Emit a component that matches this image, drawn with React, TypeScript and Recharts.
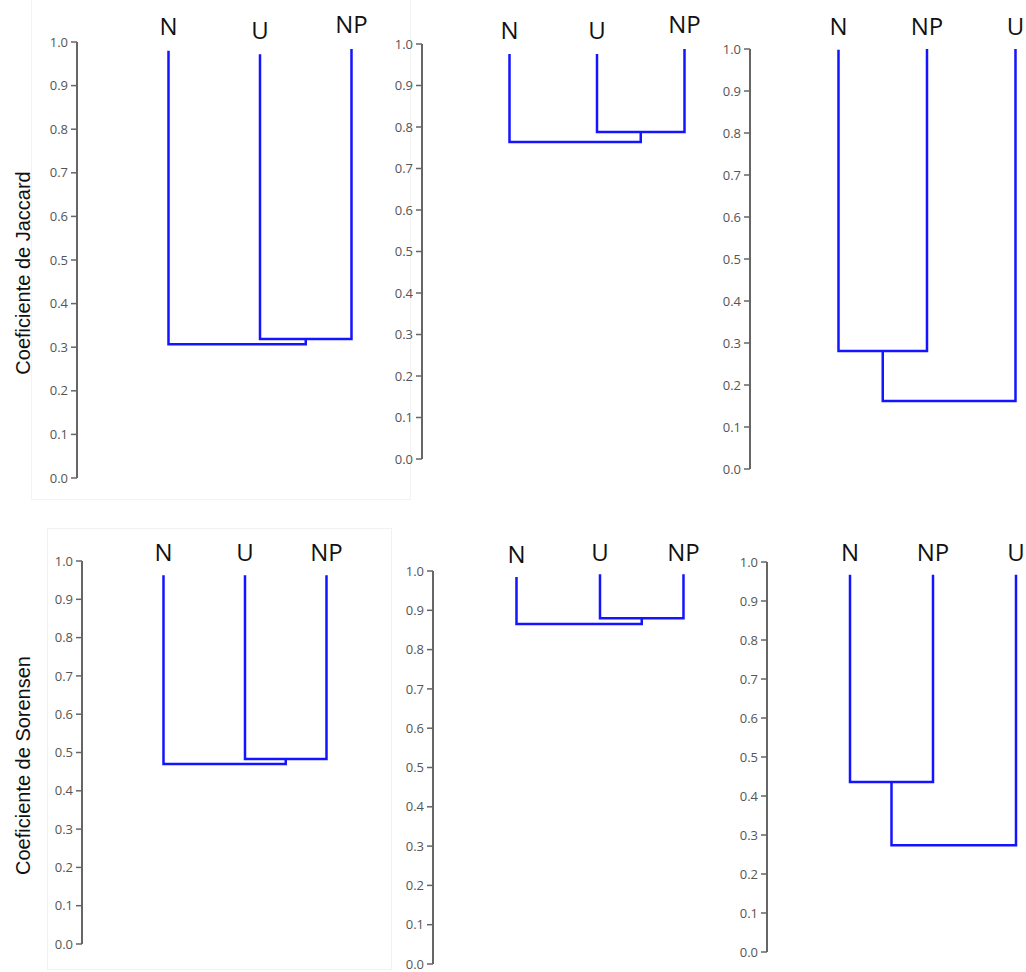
import React from 'react';
import { LineChart, Line, XAxis, YAxis, Label } from 'recharts';

// leaf order of each dendrogram (top row: Jaccard, bottom row: Sorensen)
const panelLeaves = [
  ['N', 'U', 'NP'],
  ['N', 'U', 'NP'],
  ['N', 'NP', 'U'],
  ['N', 'U', 'NP'],
  ['N', 'U', 'NP'],
  ['N', 'NP', 'U'],
];

// height where each leaf's branch starts
const leafTops = [
  [0.98, 0.972, 0.984],
  [0.976, 0.976, 0.988],
  [0.998, 1.0, 1.0],
  [0.963, 0.963, 0.963],
  [0.985, 0.992, 0.992],
  [0.967, 0.967, 0.967],
];

// the two leaves joined first, and the join heights
const firstPair = [
  [1, 2],
  [1, 2],
  [0, 1],
  [1, 2],
  [1, 2],
  [0, 1],
];
const pairJoin = [0.319, 0.788, 0.281, 0.483, 0.88, 0.436];
const rootJoin = [0.307, 0.764, 0.162, 0.47, 0.865, 0.274];

const yTicks = [0, 0.1, 0.2, 0.3, 0.4, 0.5, 0.6, 0.7, 0.8, 0.9, 1.0];
const rowTitles = ['Coeficiente de Jaccard', 'Coeficiente de Sorensen'];

// page placement of each panel: axis x, y of 1.0, y of 0.0, leaf spacing
const layout = [
  { axisX: 77, top: 42, bottom: 478, step: 91.5, xMax: 2.2, labelDy: [-7, -3, -9], title: 0 },
  { axisX: 422, top: 44, bottom: 459, step: 87.5, xMax: 2.2, labelDy: [-5, -5, -11] },
  { axisX: 750, top: 49, bottom: 469, step: 88.5, xMax: 2.1, labelDy: [-14, -14, -14] },
  { axisX: 82, top: 561, bottom: 944, step: 81.5, xMax: 2.3, labelDy: [0, 0, 0], title: 1 },
  { axisX: 433, top: 571, bottom: 964, step: 83.5, xMax: 2.2, labelDy: [-8, -10, -10] },
  { axisX: 767, top: 562, bottom: 952, step: 83, xMax: 2.1, labelDy: [-1, -1, -1] },
];

const BLUE = '#1414ff';
const AXIS = '#666';
const TOP_H = 40;

const buildLinks = (i: number) => {
  const tops = leafTops[i];
  const [a, b] = firstPair[i];
  const other = [0, 1, 2].find((k) => k !== a && k !== b) as number;
  const mid = (a + b) / 2;
  const pair = [
    { x: a, y: tops[a] },
    { x: a, y: pairJoin[i] },
    { x: b, y: pairJoin[i] },
    { x: b, y: tops[b] },
  ];
  const root = [
    { x: other, y: tops[other] },
    { x: other, y: rootJoin[i] },
    { x: mid, y: rootJoin[i] },
    { x: mid, y: pairJoin[i] },
  ];
  return [pair, root];
};

const Dendrogram = ({ index }: { index: number }) => {
  const l = layout[index];
  const leaves = panelLeaves[index];
  const hasTitle = l.title !== undefined;
  const yWidth = hasTitle ? l.axisX : 60;
  const left = l.axisX - yWidth;
  const plotW = l.step * (l.xMax + 1);
  const plotH = l.bottom - l.top;
  const width = yWidth + plotW;
  const height = TOP_H + plotH + 14;
  const links = buildLinks(index);

  const LeafTick = (props: any) => {
    const { x, y, payload } = props;
    const k = payload.value as number;
    return (
      <text
        x={x}
        y={y + l.labelDy[k]}
        textAnchor="middle"
        fontSize={24}
        fontFamily="'Open Sans', sans-serif"
        fill="#111"
      >
        {leaves[k]}
      </text>
    );
  };

  return (
    <div style={{ position: 'absolute', left, top: l.top - TOP_H }}>
      <LineChart
        width={width}
        height={height}
        margin={{ top: 0, right: 0, bottom: 14, left: 0 }}
        style={{ overflow: 'visible' }}
      >
        <XAxis
          xAxisId={0}
          dataKey="x"
          type="number"
          orientation="top"
          domain={[-1, l.xMax]}
          ticks={[0, 1, 2]}
          interval={0}
          height={TOP_H}
          axisLine={false}
          tickLine={false}
          tickSize={0}
          tickMargin={0}
          tick={LeafTick}
        />
        <YAxis
          type="number"
          domain={[0, 1]}
          ticks={yTicks}
          interval={0}
          width={yWidth}
          tickFormatter={(v: number) => v.toFixed(1)}
          axisLine={{ stroke: AXIS, strokeWidth: 2 }}
          tickLine={{ stroke: AXIS, strokeWidth: 1.5 }}
          tickSize={6}
          tickMargin={3}
          tick={{ fill: '#555', fontSize: 13, fontFamily: "'Open Sans', sans-serif" }}
        >
          {hasTitle && (
            <Label
              content={(p: any) => {
                const vb = p.viewBox || {};
                const cx = (vb.x ?? 0) + 23;
                const cy = (vb.y ?? 0) + (vb.height ?? 0) / 2 + 13;
                return (
                  <text
                    x={cx}
                    y={cy}
                    transform={`rotate(-90, ${cx}, ${cy})`}
                    textAnchor="middle"
                    dominantBaseline="central"
                    fontSize={20}
                    fontFamily="'Liberation Sans', Arial, sans-serif"
                    fill="#111"
                  >
                    {rowTitles[l.title as number]}
                  </text>
                );
              }}
            />
          )}
        </YAxis>
        {links.map((pts, j) => (
          <Line
            key={j}
            data={pts}
            dataKey="y"
            type="linear"
            stroke={BLUE}
            strokeWidth={2.5}
            strokeLinejoin="miter"
            dot={false}
            activeDot={false}
            isAnimationActive={false}
          />
        ))}
      </LineChart>
    </div>
  );
};

export default function App() {
  return (
    <div
      style={{
        position: 'absolute',
        left: 0,
        top: 0,
        width: 1026,
        height: 972,
        background: '#fff',
        overflow: 'hidden',
      }}
    >
      <div style={{ position: 'absolute', left: 31, top: -2, width: 378, height: 500, border: '1px solid #f3f3f3' }} />
      <div style={{ position: 'absolute', left: 47, top: 528, width: 343, height: 440, border: '1px solid #f1f1f1' }} />
      {layout.map((_, i) => (
        <Dendrogram key={i} index={i} />
      ))}
    </div>
  );
}
